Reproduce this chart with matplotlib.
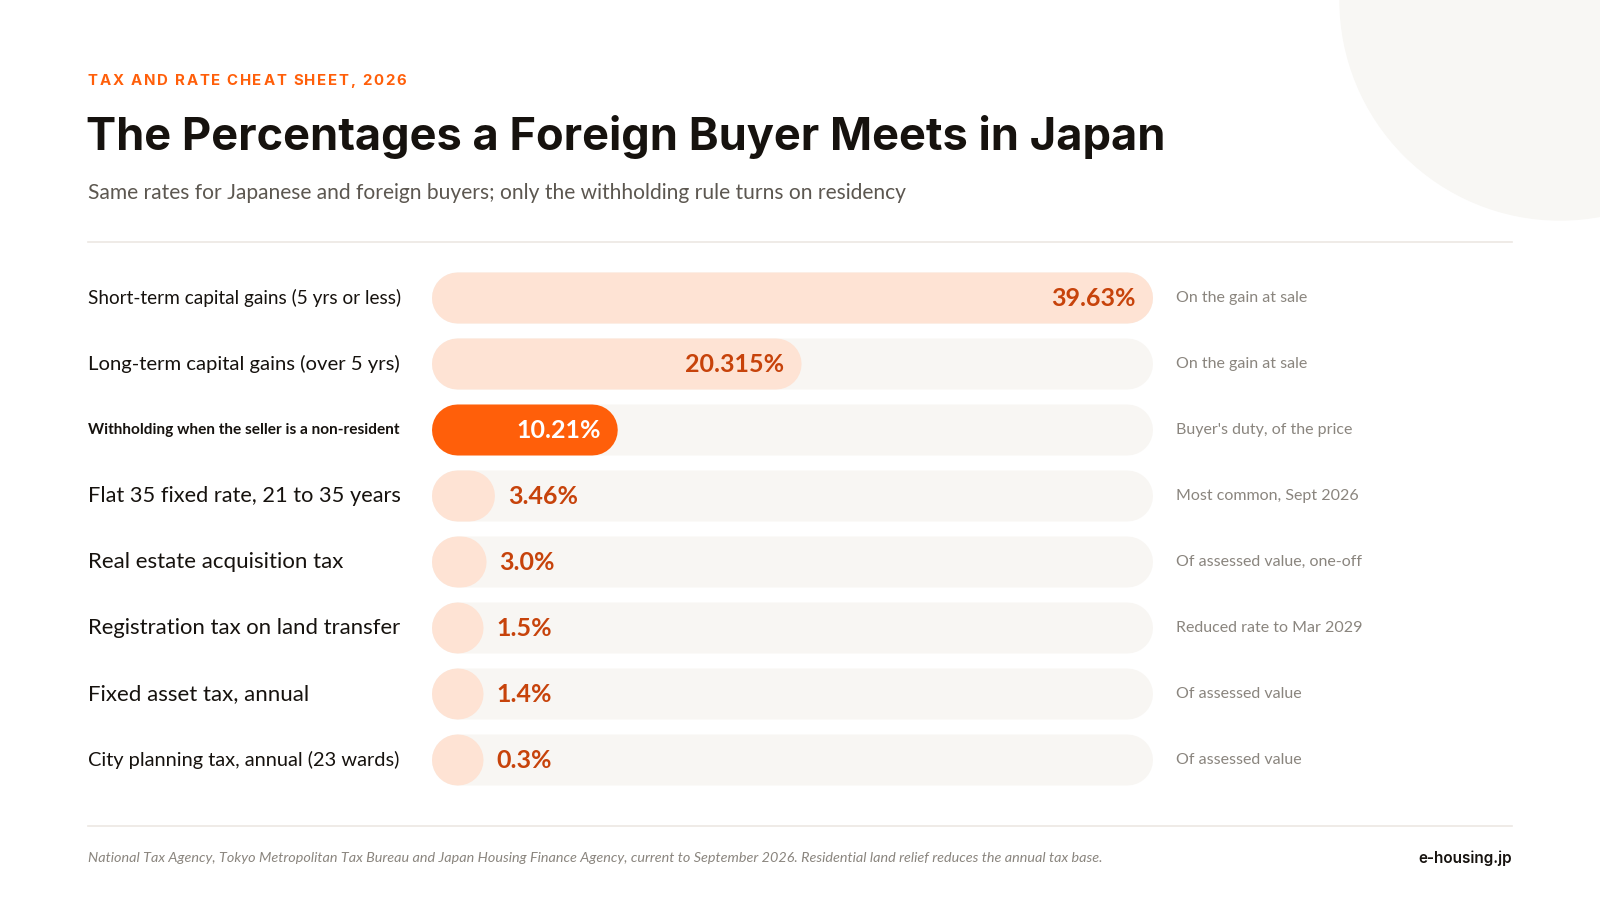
import matplotlib
matplotlib.use("Agg")
import matplotlib.pyplot as plt
from matplotlib.patches import Circle

# Chart data
labels = [
    "Short-term capital gains (5 yrs or less)",
    "Long-term capital gains (over 5 yrs)",
    "Withholding when the seller is a non-resident",
    "Flat 35 fixed rate, 21 to 35 years",
    "Real estate acquisition tax",
    "Registration tax on land transfer",
    "Fixed asset tax, annual",
    "City planning tax, annual (23 wards)",
]
values = [39.63, 20.315, 10.21, 3.46, 3.0, 1.5, 1.4, 0.3]
value_text = ["39.63%", "20.315%", "10.21%", "3.46%", "3.0%", "1.5%", "1.4%", "0.3%"]
notes = [
    "On the gain at sale",
    "On the gain at sale",
    "Buyer's duty, of the price",
    "Most common, Sept 2026",
    "Of assessed value, one-off",
    "Reduced rate to Mar 2029",
    "Of assessed value",
    "Of assessed value",
]
highlight = 2

eyebrow = "TAX AND RATE CHEAT SHEET, 2026"
title = "The Percentages a Foreign Buyer Meets in Japan"
subtitle = "Same rates for Japanese and foreign buyers; only the withholding rule turns on residency"
source = ("National Tax Agency, Tokyo Metropolitan Tax Bureau and Japan Housing Finance Agency, "
          "current to September 2026. Residential land relief reduces the annual tax base.")
brand = "e-housing.jp"

# Colours
ORANGE = "#FF5F0A"
BAR_LIGHT = "#FEE3D4"
TRACK = "#F8F6F3"
VALUE_COL = "#C7430B"
INK = "#16120E"
GREY = "#5C5750"
NOTE_GREY = "#8A857E"
RULE = "#ECE8E3"

W, H = 1600, 900
fig = plt.figure(figsize=(16, 9), dpi=100)
fig.patch.set_facecolor("white")

# background axes in pixel coordinates
bg = fig.add_axes([0, 0, 1, 1])
bg.set_xlim(0, W)
bg.set_ylim(H, 0)
bg.axis("off")
bg.add_patch(Circle((1560, 0), 220, color="#F8F7F4", zorder=0))
bg.plot([88, 1512], [242, 242], color=RULE, lw=1.2)
bg.plot([88, 1512], [826, 826], color=RULE, lw=1.2)

renderer = fig.canvas.get_renderer()

# eyebrow with letter spacing
x = 88
for ch in eyebrow:
    t = bg.text(x, 81, ch, fontsize=10.8, fontweight="bold", color=ORANGE,
                family="Inter", va="center", ha="left")
    w = t.get_window_extent(renderer).width
    if ch == " ":
        w = 3.8
    x += w + 1.65

bg.text(86, 137, title, fontsize=32.5, fontweight="bold", color=INK,
        family="Inter", va="center", ha="left")
bg.text(88, 193, subtitle, fontsize=15.1, color=GREY, family="Lato",
        va="center", ha="left")
bg.text(88, 858, source, fontsize=10.35, color=NOTE_GREY, family="Lato",
        style="italic", va="center", ha="left")
bg.text(1512, 858, brand, fontsize=11, color=INK, family="Inter",
        fontweight="semibold", va="center", ha="right")

# bar axes
track_l, track_r = 432, 1153
top, bottom = 265, 793
ax = fig.add_axes([track_l / W, 1 - bottom / H, (track_r - track_l) / W, (bottom - top) / H])
ax.axis("off")
vmax = max(values)
n = len(values)
ax.set_xlim(0, vmax)
ax.set_ylim(n - 0.5, -0.5)

bar_px = 51
lw = bar_px * 72 / 100
r_val = (bar_px / 2) * vmax / (track_r - track_l)

for i, (v, vt) in enumerate(zip(values, value_text)):
    ax.plot([r_val, vmax - r_val], [i, i], color=TRACK, lw=lw,
            solid_capstyle="round", zorder=1, snap=False)
    end = max(v, 2 * r_val + 0.03)
    col = ORANGE if i == highlight else BAR_LIGHT
    ax.plot([r_val, end - r_val], [i, i], color=col, lw=lw,
            solid_capstyle="round", zorder=2, snap=False)
    bar_w_px = end / vmax * (track_r - track_l)
    if bar_w_px > 150:
        ax.annotate(vt, (end, i), xytext=(-17, 0), textcoords="offset pixels",
                    ha="right", va="center", fontsize=18, fontweight="bold",
                    family="Lato", color="white" if i == highlight else VALUE_COL, zorder=3)
    else:
        ax.annotate(vt, (end, i), xytext=(13, 0), textcoords="offset pixels",
                    ha="left", va="center", fontsize=18, fontweight="bold",
                    family="Lato", color=VALUE_COL, zorder=3)

    # row label, shrunk to fit the label column
    fs = 16
    weight = "bold" if i == highlight else "normal"
    t = ax.annotate(labels[i], (88, i), xycoords=("figure pixels", "data"),
                    ha="left", va="center", fontsize=fs, fontweight=weight,
                    family="Lato", color=INK)
    w = t.get_window_extent(renderer).width
    if w > 314:
        t.set_fontsize(fs * 314 / w)

    ax.annotate(notes[i], (1176, i), xycoords=("figure pixels", "data"),
                ha="left", va="center", fontsize=11.5, family="Lato",
                color=NOTE_GREY)

fig.savefig("out.png", dpi=100, facecolor="white")
